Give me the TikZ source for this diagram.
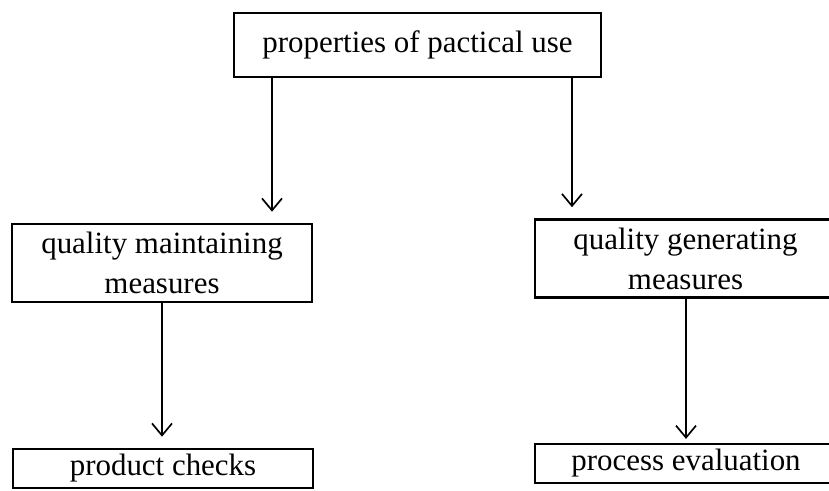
\documentclass[tikz,border=0pt]{standalone}
\usepackage{fontspec}
\setmainfont{Liberation Serif}
\usetikzlibrary{arrows.meta}

\begin{document}
\begin{tikzpicture}[
    x=0.025cm, y=-0.025cm,
    box/.style={rectangle, draw=black, line width=1.5pt, inner sep=0pt, align=center,
      font=\fontsize{22}{28.5}\selectfont, minimum width=7.5cm},
    tallbox/.style={box, minimum height=1.95cm},
    flatbox/.style={box, minimum height=0.975cm},
    arr/.style={-{Straight Barb[length=0.3cm, width=0.5cm, line width=1.2pt]}, line width=1.2pt, shorten >=0.28cm}
]
  \useasboundingbox (0,0) rectangle (829,491);

  \node[box, minimum width=9.175cm, minimum height=1.6cm] (use) at (417.5,45) {properties of pactical use};
  \node[tallbox] (maintain) at (162,263) {quality maintaining\\measures};
  \node[tallbox, minimum width=7.525cm] (generate) at (685.5,258.5) {quality generating\\measures};
  \node[flatbox] (checks) at (163,468.5) {product checks};
  \node[flatbox, minimum width=7.55cm] (evaluation) at (686,463.5) {process evaluation};

  \coordinate (la) at (272,0);
  \coordinate (ra) at (572,0);
  \coordinate (lb) at (162,0);
  \coordinate (rb) at (686,0);

  \draw[arr] (use.south -| la) -- (maintain.north -| la);
  \draw[arr] (use.south -| ra) -- (generate.north -| ra);
  \draw[arr] (maintain.south -| lb) -- (checks.north -| lb);
  \draw[arr, shorten >=0.1cm] (generate.south -| rb) -- (evaluation.north -| rb);
\end{tikzpicture}
\end{document}
